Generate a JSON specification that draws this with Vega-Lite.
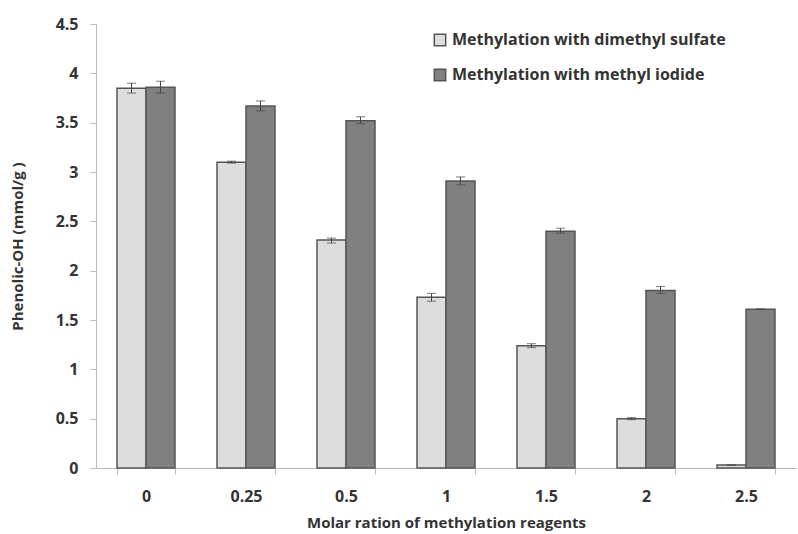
{
  "$schema": "https://vega.github.io/schema/vega-lite/v6.json",
  "width": 700,
  "height": 444,
  "autosize": {"type": "none"},
  "padding": {"left": 96, "top": 24, "right": 2, "bottom": 66},
  "background": "white",
  "config": {
    "view": {"stroke": null},
    "font": "Open Sans",
    "axis": {"labelFont": "Open Sans", "titleFont": "Open Sans", "labelFontWeight": "bold", "titleFontWeight": "bold", "labelColor": "#333", "titleColor": "#333", "domainColor": "#bbb", "tickColor": "#bbb", "grid": false}
  },
  "data": {
    "values": [
      {"ratio": "0", "method": "Methylation with dimethyl sulfate", "value": 3.85, "lo": 3.80, "hi": 3.90},
      {"ratio": "0.25", "method": "Methylation with dimethyl sulfate", "value": 3.10, "lo": 3.09, "hi": 3.11},
      {"ratio": "0.5", "method": "Methylation with dimethyl sulfate", "value": 2.31, "lo": 2.28, "hi": 2.33},
      {"ratio": "1", "method": "Methylation with dimethyl sulfate", "value": 1.73, "lo": 1.69, "hi": 1.77},
      {"ratio": "1.5", "method": "Methylation with dimethyl sulfate", "value": 1.24, "lo": 1.22, "hi": 1.26},
      {"ratio": "2", "method": "Methylation with dimethyl sulfate", "value": 0.50, "lo": 0.49, "hi": 0.51},
      {"ratio": "2.5", "method": "Methylation with dimethyl sulfate", "value": 0.03, "lo": 0.03, "hi": 0.03},
      {"ratio": "0", "method": "Methylation with methyl iodide", "value": 3.86, "lo": 3.80, "hi": 3.92},
      {"ratio": "0.25", "method": "Methylation with methyl iodide", "value": 3.67, "lo": 3.62, "hi": 3.72},
      {"ratio": "0.5", "method": "Methylation with methyl iodide", "value": 3.52, "lo": 3.49, "hi": 3.56},
      {"ratio": "1", "method": "Methylation with methyl iodide", "value": 2.91, "lo": 2.87, "hi": 2.95},
      {"ratio": "1.5", "method": "Methylation with methyl iodide", "value": 2.40, "lo": 2.38, "hi": 2.43},
      {"ratio": "2", "method": "Methylation with methyl iodide", "value": 1.80, "lo": 1.77, "hi": 1.84},
      {"ratio": "2.5", "method": "Methylation with methyl iodide", "value": 1.61, "lo": 1.61, "hi": 1.61}
    ]
  },
  "encoding": {
    "x": {
      "field": "ratio", "type": "nominal", "sort": null,
      "scale": {"paddingInner": 0.42, "paddingOuter": 0.21},
      "axis": {"title": "Molar ration of methylation reagents", "labelAngle": 0, "labelFontSize": 16, "titleFontSize": 15, "labelPadding": 14, "titlePadding": 11, "tickBand": "extent", "tickSize": 6}
    },
    "xOffset": {"field": "method", "type": "nominal", "sort": null}
  },
  "layer": [
    {
      "mark": {"type": "bar", "stroke": "#555", "strokeWidth": 1.5},
      "encoding": {
        "y": {
          "field": "value", "type": "quantitative",
          "scale": {"domain": [0, 4.5], "nice": false},
          "axis": {"title": "Phenolic-OH (mmol/g )", "values": [0, 0.5, 1, 1.5, 2, 2.5, 3, 3.5, 4, 4.5], "format": "~g", "labelFontSize": 16, "titleFontSize": 15, "labelPadding": 12, "tickSize": 6, "titlePadding": 30}
        },
        "fill": {
          "field": "method", "type": "nominal", "sort": null,
          "scale": {"range": ["#dddddd", "#808080"]},
          "legend": {
            "title": null, "orient": "none", "legendX": 336, "legendY": 8,
            "symbolType": "square", "symbolSize": 130, "symbolStrokeColor": "#555", "symbolStrokeWidth": 1.5,
            "labelFontSize": 16, "labelFontWeight": "bold", "labelColor": "#333", "labelFont": "Open Sans", "labelLimit": 0,
            "rowPadding": 17, "symbolOffset": 0, "labelOffset": 4
          }
        }
      }
    },
    {
      "mark": {"type": "rule", "color": "#444", "strokeWidth": 1},
      "encoding": {
        "y": {"field": "lo", "type": "quantitative"},
        "y2": {"field": "hi"}
      }
    },
    {
      "mark": {"type": "tick", "color": "#444", "size": 9, "thickness": 1},
      "encoding": {"y": {"field": "hi", "type": "quantitative"}}
    },
    {
      "mark": {"type": "tick", "color": "#444", "size": 9, "thickness": 1},
      "encoding": {"y": {"field": "lo", "type": "quantitative"}}
    }
  ]
}
